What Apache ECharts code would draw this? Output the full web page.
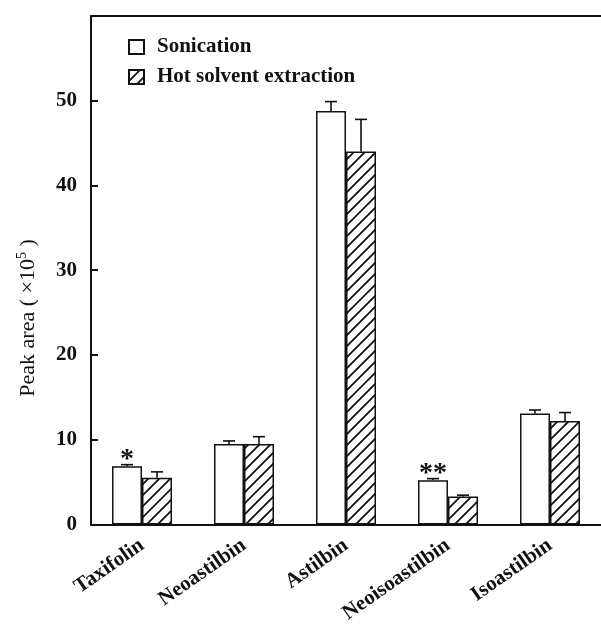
<!DOCTYPE html>
<html>
<head>
<meta charset="utf-8">
<script src="https://cdn.jsdelivr.net/npm/echarts@6/dist/echarts.min.js"></script>
<style>html,body{margin:0;padding:0;background:#fff}#chart{width:601px;height:626px}</style>
</head>
<body>
<div id="chart"></div>
<script>
const categories = ['Taxifolin', 'Neoastilbin', 'Astilbin', 'Neoisoastilbin', 'Isoastilbin'];
const sonication = [6.85, 9.5, 48.8, 5.2, 13.1];
const sonicationErr = [0.2, 0.35, 1.1, 0.2, 0.4];
const hotSolvent = [5.5, 9.5, 44.0, 3.3, 12.2];
const hotSolventErr = [0.7, 0.85, 3.8, 0.15, 1.0];
const significance = ['*', '', '', '**', ''];
const yTickValues = [0, 10, 20, 30, 40, 50];
const seriesNames = ['Sonication', 'Hot solvent extraction'];

const FONT = "'Liberation Serif', 'Times New Roman', serif";
const BAR_W = 30;

function hatchPattern() {
  const s = 11;
  const c = document.createElement('canvas');
  c.width = s; c.height = s;
  const ctx = c.getContext('2d');
  ctx.fillStyle = '#fff';
  ctx.fillRect(0, 0, s, s);
  ctx.strokeStyle = '#111';
  ctx.lineWidth = 1.8;
  ctx.beginPath();
  ctx.moveTo(0, s); ctx.lineTo(s, 0);
  ctx.moveTo(-2, 2); ctx.lineTo(2, -2);
  ctx.moveTo(s - 2, s + 2); ctx.lineTo(s + 2, s - 2);
  ctx.stroke();
  return c;
}

function errorSeries(values, errs, offset) {
  return {
    type: 'custom',
    z: 5,
    silent: true,
    data: categories.map((c, i) => [i, values[i], errs[i]]),
    renderItem: function (params, api) {
      const i = api.value(0);
      const base = api.coord([i, api.value(1)]);
      const top = api.coord([i, api.value(1) + api.value(2)]);
      const x = base[0] + offset;
      const style = { stroke: '#111', lineWidth: 1.6 };
      return {
        type: 'group',
        children: [
          { type: 'line', shape: { x1: x, y1: base[1], x2: x, y2: top[1] }, style: style },
          { type: 'line', shape: { x1: x - 6, y1: top[1], x2: x + 6, y2: top[1] }, style: style }
        ]
      };
    }
  };
}

const chart = echarts.init(document.getElementById('chart'), null, { renderer: 'canvas' });
chart.setOption({
  animation: false,
  backgroundColor: '#fff',
  textStyle: { fontFamily: FONT },
  grid: { left: 91, right: 0, top: 16, bottom: 99, containLabel: false },
  legend: {
    orient: 'vertical',
    left: 123,
    top: 31,
    icon: 'rect',
    itemWidth: 15,
    itemHeight: 14,
    itemGap: 8,
    data: seriesNames,
    textStyle: { fontFamily: FONT, fontSize: 21, fontWeight: 'bold', color: '#111', lineHeight: 22, padding: [0, 0, 0, 8] }
  },
  xAxis: [{
    type: 'category',
    data: categories,
    axisLine: { lineStyle: { color: '#111', width: 2 } },
    axisTick: { show: false },
    axisLabel: { interval: 0, rotate: 35, margin: 19, color: '#111', fontFamily: FONT, fontSize: 21, fontWeight: 'bold' }
  }, {
    type: 'category',
    position: 'top',
    data: categories,
    axisLine: { lineStyle: { color: '#111', width: 2 } },
    axisTick: { show: false },
    axisLabel: { show: false }
  }],
  yAxis: {
    type: 'value',
    min: 0,
    max: 60,
    interval: 10,
    axisLine: { show: true, lineStyle: { color: '#111', width: 2 } },
    axisTick: { show: true, inside: true, length: 7, lineStyle: { color: '#111', width: 2 } },
    splitLine: { show: false },
    axisLabel: {
      margin: 14,
      color: '#111',
      fontFamily: FONT,
      fontSize: 21,
      fontWeight: 'bold',
      formatter: v => (yTickValues.indexOf(v) >= 0 ? String(v) : '')
    }
  },
  graphic: [{
    type: 'text',
    x: 28,
    y: 318,
    rotation: Math.PI / 2,
    style: {
      rich: {
        n: { fontFamily: FONT, fontSize: 22, fill: '#111' },
        s: { fontFamily: FONT, fontSize: 14, fill: '#111', verticalAlign: 'bottom', padding: [0, 0, 11, 0] }
      },
      text: '{n|Peak area ( ×10}{s|5}{n| )}',
      align: 'center',
      verticalAlign: 'middle'
    }
  }],
  series: [{
    name: seriesNames[0],
    type: 'bar',
    barWidth: BAR_W,
    barGap: '0%',
    data: sonication,
    itemStyle: { color: '#fff', borderColor: '#111', borderWidth: 1.5 },
    label: {
      show: true,
      position: 'top',
      distance: 0,
      formatter: p => significance[p.dataIndex],
      fontFamily: FONT,
      fontSize: 28,
      fontWeight: 'bold',
      color: '#111',
      lineHeight: 14
    }
  }, {
    name: seriesNames[1],
    type: 'bar',
    barWidth: BAR_W,
    barGap: '0%',
    data: hotSolvent,
    itemStyle: { color: { image: hatchPattern(), repeat: 'repeat' }, borderColor: '#111', borderWidth: 1.5 }
  },
  errorSeries(sonication, sonicationErr, -BAR_W / 2),
  errorSeries(hotSolvent, hotSolventErr, BAR_W / 2)
  ]
});
</script>
</body>
</html>
